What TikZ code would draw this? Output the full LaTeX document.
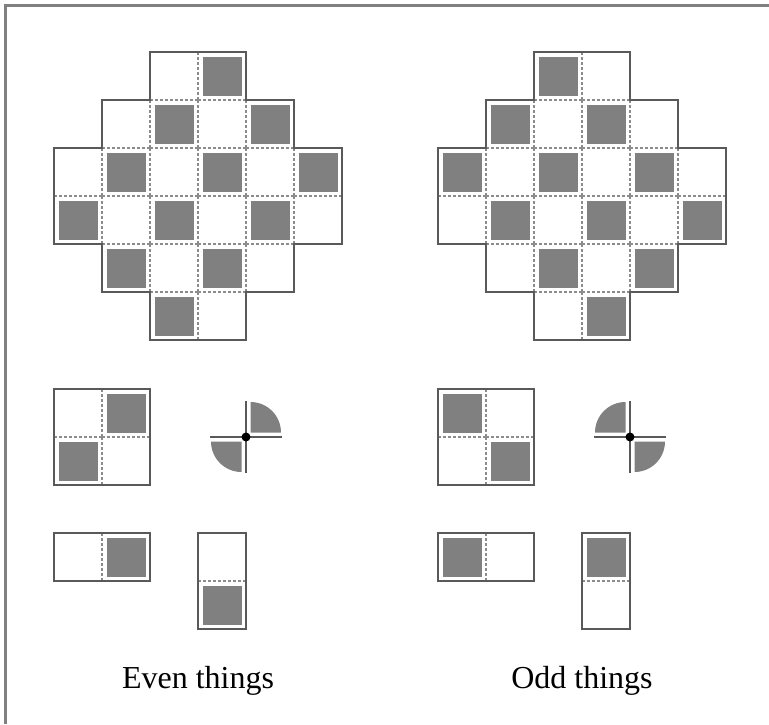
\documentclass[tikz,border=0pt]{standalone}
\usepackage{fontspec}
\setmainfont{Liberation Serif}
\usepackage{tikz}

\begin{document}
\begin{tikzpicture}[
  x=1pt, y=-1pt,
  cellline/.style={draw=black!45, dash pattern=on 3pt off 2pt, line width=1.2pt},
  outline/.style={draw=black!65, line width=1.5pt},
  tile/.style={fill=black!50},
  cross/.style={draw=black!65, line width=2pt},
  frameline/.style={draw=black!50, line width=2.5pt},
  caption/.style={font=\fontsize{32}{38}\selectfont, anchor=base}
]
\useasboundingbox (0,0) rectangle (769,724);

% Frame (top and left edges only)
\draw[frameline] (5.5,724) -- (5.5,5.5) -- (769,5.5);

% Both sides: even (tiles on odd r+c) and odd (tiles on even r+c)
\foreach \ox/\pty in {54/1, 438/0} {
  % Big board
  \foreach \r/\a/\b in {0/2/3, 1/1/4, 2/0/5, 3/0/5, 4/1/4, 5/2/3} {
    \foreach \c in {\a,...,\b} {
      \pgfmathtruncatemacro{\px}{\ox+48*\c}
      \pgfmathtruncatemacro{\py}{52+48*\r}
      \pgfmathtruncatemacro{\pp}{mod(\r+\c,2)}
      \draw[cellline] (\px,\py) -- ++(48,0) (\px,\py+48) -- ++(48,0)
                      (\px,\py) -- ++(0,48) (\px+48,\py) -- ++(0,48);
      \ifnum\pp=\pty \fill[tile] (\px+4.5,\py+4.5) rectangle ++(39,39); \fi
    }
  }
  \draw[outline] (\ox+96,52) -- ++(96,0) -- ++(0,48) -- ++(48,0) -- ++(0,48) -- ++(48,0)
    -- ++(0,96) -- ++(-48,0) -- ++(0,48) -- ++(-48,0) -- ++(0,48) -- ++(-96,0)
    -- ++(0,-48) -- ++(-48,0) -- ++(0,-48) -- ++(-48,0) -- ++(0,-96) -- ++(48,0)
    -- ++(0,-48) -- ++(48,0) -- cycle;

  % Small pieces: 2x2 square, 1x2 bar, 2x1 bar
  \foreach \bx/\by/\nr/\nc in {0/389/1/1, 0/533/0/1, 144/533/1/0} {
    \foreach \r in {0,...,\nr} {
      \foreach \c in {0,...,\nc} {
        \pgfmathtruncatemacro{\px}{\ox+\bx+48*\c}
        \pgfmathtruncatemacro{\py}{\by+48*\r}
        \pgfmathtruncatemacro{\pp}{mod(\r+\c,2)}
        \draw[cellline] (\px,\py) -- ++(48,0) (\px,\py+48) -- ++(48,0)
                        (\px,\py) -- ++(0,48) (\px+48,\py) -- ++(0,48);
        \ifnum\pp=\pty \fill[tile] (\px+4.5,\py+4.5) rectangle ++(39,39); \fi
      }
    }
    \draw[outline] (\ox+\bx,\by) rectangle ++(48*\nc+48,48*\nr+48);
  }
}

% Corner pieces
\fill[tile] (250.5,432.5) -- ++(30.5,0) arc[start angle=0, end angle=-90, radius=30.5] -- cycle;
\fill[tile] (241.5,441.5) -- ++(-30.5,0) arc[start angle=180, end angle=90, radius=30.5] -- cycle;
\fill[tile] (625.5,432.5) -- ++(-30.5,0) arc[start angle=180, end angle=270, radius=30.5] -- cycle;
\fill[tile] (634.5,441.5) -- ++(30.5,0) arc[start angle=0, end angle=90, radius=30.5] -- cycle;

\coordinate (evendot) at (246,437);
\coordinate (odddot) at (630,437);
\foreach \d in {evendot, odddot} {
  \draw[cross] ([xshift=-36pt]\d) -- ([xshift=36pt]\d);
  \draw[cross] ([yshift=-36pt]\d) -- ([yshift=36pt]\d);
  \fill (\d) circle[radius=4.5];
}

% Captions
\node[caption] (even) at (198,688) {Even things};
\node[caption] (odd) at (582,688) {Odd things};

\end{tikzpicture}
\end{document}
